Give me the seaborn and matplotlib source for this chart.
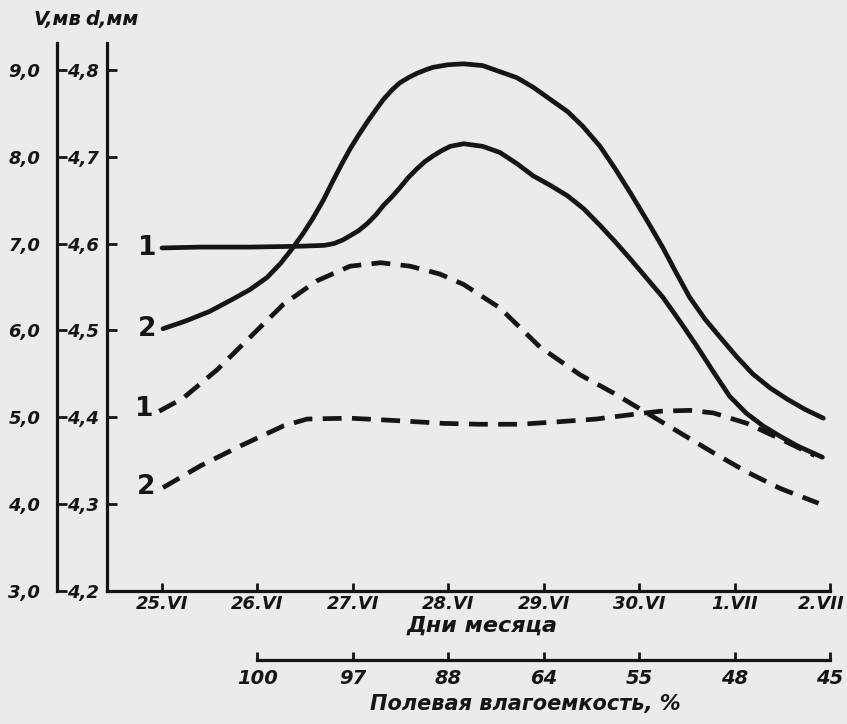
import numpy as np
import pandas as pd
import matplotlib
matplotlib.use("Agg")
import matplotlib.pyplot as plt
import matplotlib.transforms as mtransforms
import seaborn as sns

# ---------------- data ----------------
dates = ["25.VI", "26.VI", "27.VI", "28.VI", "29.VI", "30.VI", "1.VII", "2.VII"]
date_pos = [0, 1, 2, 3, 4, 5, 6, 7]

moisture_labels = ["100", "97", "88", "64", "55", "48", "45"]
moisture_pos = [1, 2, 3, 4, 5, 6, 7]

v_ticks = [3.0, 4.0, 5.0, 6.0, 7.0, 8.0, 9.0]
v_labels = ["3,0", "4,0", "5,0", "6,0", "7,0", "8,0", "9,0"]
d_ticks = [4.2, 4.3, 4.4, 4.5, 4.6, 4.7, 4.8]
d_labels = ["4,2", "4,3", "4,4", "4,5", "4,6", "4,7", "4,8"]

# solid curve 1 (V, mV)
s1_day = [0.0, 0.40, 0.92, 1.45, 1.70, 1.80, 1.89, 1.97, 2.06, 2.15, 2.24, 2.32,
          2.41, 2.49, 2.58, 2.67, 2.75, 2.84, 2.93, 3.02, 3.16, 3.36, 3.54, 3.72,
          3.89, 4.07, 4.25, 4.42, 4.59, 4.75, 4.91, 5.08, 5.25, 5.43, 5.61, 5.78,
          5.95, 6.12, 6.30, 6.48, 6.66, 6.92]
s1_v = [6.95, 6.96, 6.96, 6.97, 6.98, 7.00, 7.04, 7.09, 7.15, 7.23, 7.33, 7.44,
        7.54, 7.64, 7.76, 7.86, 7.94, 8.01, 8.07, 8.12, 8.15, 8.12, 8.05, 7.92,
        7.78, 7.67, 7.55, 7.40, 7.21, 7.02, 6.82, 6.60, 6.38, 6.10, 5.81, 5.52,
        5.24, 5.05, 4.90, 4.78, 4.67, 4.54]

# solid curve 2 (V, mV)
s2_day = [0.01, 0.25, 0.50, 0.74, 0.92, 1.10, 1.24, 1.37, 1.48, 1.58, 1.69, 1.79,
          1.88, 1.97, 2.06, 2.15, 2.24, 2.32, 2.41, 2.49, 2.58, 2.67, 2.76, 2.84,
          3.00, 3.16, 3.36, 3.54, 3.72, 3.89, 4.07, 4.25, 4.41, 4.59, 4.75, 4.91,
          5.08, 5.25, 5.39, 5.53, 5.69, 5.85, 6.02, 6.19, 6.37, 6.55, 6.74, 6.93]
s2_v = [6.02, 6.11, 6.22, 6.36, 6.47, 6.61, 6.77, 6.95, 7.12, 7.29, 7.50, 7.72,
        7.91, 8.09, 8.25, 8.40, 8.54, 8.66, 8.77, 8.85, 8.91, 8.96, 9.00, 9.03,
        9.06, 9.07, 9.05, 8.98, 8.91, 8.80, 8.66, 8.52, 8.35, 8.12, 7.86, 7.58,
        7.27, 6.95, 6.66, 6.38, 6.13, 5.92, 5.70, 5.50, 5.34, 5.21, 5.09, 4.99]

# dashed curve 1 (d, mm)
d1_day = [-0.03, 0.22, 0.58, 0.92, 1.27, 1.62, 1.97, 2.29, 2.60, 2.91, 3.16, 3.54,
          3.96, 4.38, 4.73, 5.08, 5.43, 5.78, 6.13, 6.48, 6.88]
d1_mm = [4.407, 4.422, 4.455, 4.492, 4.530, 4.557, 4.574, 4.578, 4.574, 4.565,
         4.553, 4.526, 4.481, 4.449, 4.428, 4.405, 4.382, 4.359, 4.337, 4.318, 4.301]

# dashed curve 2 (d, mm)
d2_day = [0.01, 0.40, 0.82, 1.27, 1.52, 1.97, 2.49, 2.95, 3.33, 3.75, 4.17, 4.55,
          4.91, 5.22, 5.53, 5.78, 6.13, 6.48, 6.84]
d2_mm = [4.319, 4.344, 4.367, 4.390, 4.398, 4.399, 4.396, 4.393, 4.392, 4.392,
         4.395, 4.398, 4.403, 4.407, 4.408, 4.405, 4.393, 4.375, 4.356]

# ---------------- style ----------------
bg = "#e9eceb"
ink = "#151515"
sns.set_theme(style="white")
plt.rcParams["font.family"] = ["DejaVu Sans"]

fig = plt.figure(figsize=(8.47, 7.24), dpi=100, facecolor=bg)
W, H = 847, 724
ax = fig.add_axes([107 / W, (H - 591) / H, 723 / W, 548 / H])
ax.set_facecolor(bg)

ax_v = ax.twinx()
ax2 = ax.twiny()
for a in (ax_v, ax2):
    a.set_facecolor("none")

font_tick = dict(fontsize=13, fontstyle="italic", fontweight="bold", color=ink)

# curves
lw = 3.4
sns.lineplot(x=s1_day, y=s1_v, ax=ax_v, color=ink, linewidth=lw, sort=False,
             solid_capstyle="round", solid_joinstyle="round")
sns.lineplot(x=s2_day, y=s2_v, ax=ax_v, color=ink, linewidth=lw, sort=False,
             solid_capstyle="round", solid_joinstyle="round")
sns.lineplot(x=d1_day, y=d1_mm, ax=ax, color=ink, linewidth=lw, sort=False,
             linestyle=(0, (4.0, 2.2)), dash_capstyle="butt")
sns.lineplot(x=d2_day, y=d2_mm, ax=ax, color=ink, linewidth=lw, sort=False,
             linestyle=(0, (4.0, 2.2)), dash_capstyle="butt")

# curve numbers
num_kw = dict(fontsize=19, fontweight="bold", color=ink, ha="center", va="center")
ax_v.text(-0.16, 6.95, "1", **num_kw)
ax_v.text(-0.16, 6.02, "2", **num_kw)
ax.text(-0.19, 4.41, "1", **num_kw)
ax.text(-0.17, 4.32, "2", **num_kw)

# limits
xlim = (-0.577, 7.0)
for a in (ax, ax_v, ax2):
    a.set_xlim(*xlim)
ax.set_ylim(4.2, 4.831)
ax_v.set_ylim(3.0, 9.31)

# main axes: d axis + date axis
for s in ("top", "right"):
    ax.spines[s].set_visible(False)
for s in ("left", "bottom"):
    ax.spines[s].set_linewidth(2.3)
    ax.spines[s].set_color(ink)
ax.set_yticks(d_ticks)
ax.set_yticklabels(d_labels, **font_tick)
ax.set_xticks(date_pos)
ax.set_xticklabels(dates, **font_tick)
ax.tick_params(axis="y", direction="in", length=7, width=2, color=ink, pad=6, left=True)
ax.tick_params(axis="x", direction="in", length=6, width=2, color=ink, pad=3, bottom=True)
# the last date label sits slightly left of its tick in the original
last = ax.get_xticklabels()[-1]
last.set_transform(last.get_transform() +
                   mtransforms.ScaledTranslation(-9 / 100, 0, fig.dpi_scale_trans))
ax.set_xlabel("Дни месяца", fontsize=16, fontstyle="italic", fontweight="bold",
              color=ink, va="center")
ax.xaxis.set_label_coords((482 - 107) / 723, -(626 - 591) / 548)
ax.set_ylabel("")

# V axis
for s in ("top", "right", "bottom"):
    ax_v.spines[s].set_visible(False)
ax_v.spines["left"].set_visible(True)
ax_v.spines["left"].set_position(("outward", 36))
ax_v.spines["left"].set_linewidth(2.3)
ax_v.spines["left"].set_color(ink)
ax_v.yaxis.set_ticks_position("left")
ax_v.yaxis.set_label_position("left")
ax_v.set_yticks(v_ticks)
ax_v.set_yticklabels(v_labels, **font_tick)
ax_v.tick_params(axis="y", direction="in", length=7, width=2, color=ink, pad=12)
ax_v.set_ylabel("")

# axis titles on top
ttl = dict(fontsize=14, fontstyle="italic", fontweight="bold", color=ink,
           ha="center", va="center")
fig.text(57 / W, 1 - 20 / H, "V,мв", **ttl)
fig.text(112 / W, 1 - 20 / H, "d,мм", **ttl)

# second x axis: field moisture capacity
for s in ("top", "left", "right"):
    ax2.spines[s].set_visible(False)
ax2.spines["bottom"].set_visible(True)
ax2.spines["bottom"].set_position(("outward", 50))
ax2.spines["bottom"].set_bounds(1, 7)
ax2.spines["bottom"].set_linewidth(2.3)
ax2.spines["bottom"].set_color(ink)
ax2.xaxis.set_ticks_position("bottom")
ax2.xaxis.set_label_position("bottom")
ax2.set_xticks(moisture_pos)
ax2.set_xticklabels(moisture_labels, fontsize=14, fontstyle="italic",
                    fontweight="bold", color=ink)
ax2.tick_params(axis="x", direction="in", length=6, width=2, color=ink, pad=6)
ax2.set_xlabel("Полевая влагоемкость, %", fontsize=15, fontstyle="italic",
               fontweight="bold", color=ink, va="center")
ax2.xaxis.set_label_coords((525 - 107) / 723, -(704 - 591) / 548)

fig.savefig("out.png", dpi=100, facecolor=bg)
